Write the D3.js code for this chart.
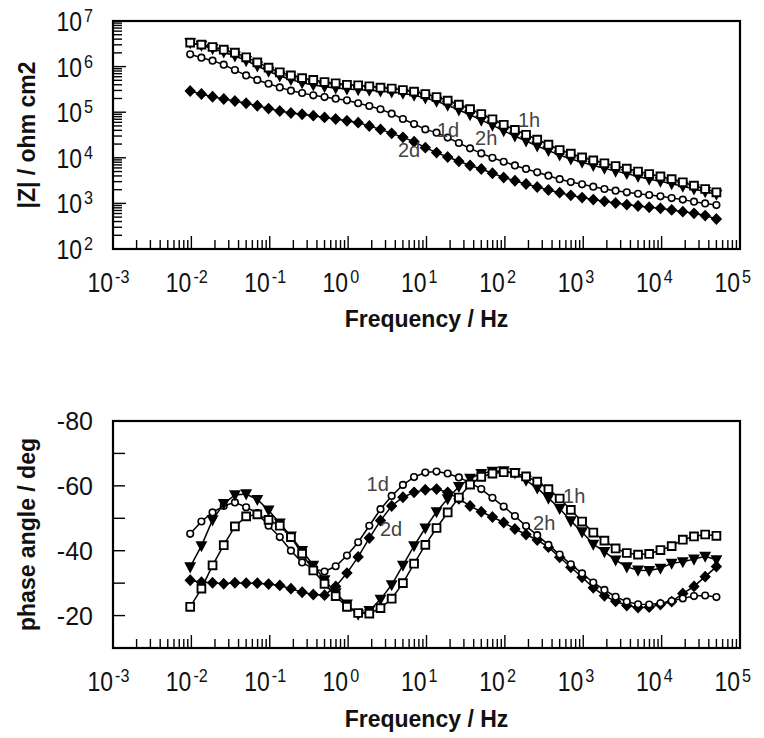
<!DOCTYPE html>
<html>
<head>
<meta charset="utf-8">
<script src="https://cdn.jsdelivr.net/npm/d3@7"></script>
<style>
body{margin:0;background:#fff}
svg{display:block;font-family:"Liberation Sans",Arial,sans-serif}
</style>
</head>
<body>
<svg id="mainsvg" width="764" height="738"></svg>
<script>
// frequencies, Hz (7 points per decade, 50 kHz down to ~10 mHz)
const freq = [0.00966, 0.01343, 0.01863, 0.02588, 0.03594, 0.05, 0.0694, 0.0966, 0.1343, 0.1863,
  0.2588, 0.3594, 0.5, 0.694, 0.966, 1.343, 1.863, 2.588, 3.594, 5,
  6.94, 9.66, 13.43, 18.63, 25.88, 35.94, 50, 69.4, 96.6, 134.3,
  186.3, 258.8, 359.4, 500, 694, 966, 1343, 1863, 2588, 3594,
  5000, 6940, 9660, 13430, 18630, 25880, 35940, 50000]

// |Z| / ohm cm2
const mag1h = [3.35e6, 3.03e6, 2.69e6, 2.35e6, 2.02e6, 1.60e6, 1.24e6, 9.5e5, 7.5e5, 6.4e5,
  5.6e5, 5.1e5, 4.6e5, 4.3e5, 4.0e5, 3.9e5, 3.7e5, 3.45e5, 3.3e5, 3.07e5,
  2.82e5, 2.5e5, 2.15e5, 1.79e5, 1.46e5, 1.17e5, 9.1e4, 7.0e4, 5.3e4, 4.1e4,
  3.2e4, 2.5e4, 1.94e4, 1.48e4, 1.23e4, 1.02e4, 8.8e3, 7.6e3, 6.6e3, 5.8e3,
  5.0e3, 4.4e3, 3.9e3, 3.4e3, 2.9e3, 2.45e3, 2.07e3, 1.75e3]
const mag2h = [3.35e6, 2.92e6, 2.47e6, 2.09e6, 1.71e6, 1.35e6, 1.03e6, 7.9e5, 6.2e5, 5.2e5,
  4.4e5, 3.95e5, 3.63e5, 3.4e5, 3.23e5, 3.12e5, 3.02e5, 2.92e5, 2.77e5, 2.59e5,
  2.34e5, 2.05e5, 1.73e5, 1.42e5, 1.12e5, 8.8e4, 6.7e4, 5.2e4, 3.9e4, 3.0e4,
  2.34e4, 1.82e4, 1.44e4, 1.15e4, 9.4e3, 8.0e3, 6.8e3, 5.9e3, 5.1e3, 4.5e3,
  3.9e3, 3.4e3, 3.05e3, 2.7e3, 2.37e3, 2.07e3, 1.81e3, 1.58e3]
const mag1d = [1.86e6, 1.57e6, 1.35e6, 1.10e6, 8.4e5, 6.4e5, 5.1e5, 4.2e5, 3.5e5, 2.96e5,
  2.64e5, 2.34e5, 2.15e5, 1.98e5, 1.82e5, 1.57e5, 1.37e5, 1.16e5, 9.3e4, 7.1e4,
  5.5e4, 4.2e4, 3.56e4, 2.77e4, 2.11e4, 1.61e4, 1.25e4, 1.0e4, 8.2e3, 6.8e3,
  5.7e3, 4.8e3, 4.05e3, 3.4e3, 2.94e3, 2.62e3, 2.33e3, 2.07e3, 1.9e3, 1.75e3,
  1.63e3, 1.53e3, 1.43e3, 1.31e3, 1.21e3, 1.09e3, 1.0e3, 9.2e2]
const mag2d = [2.92e5, 2.51e5, 2.19e5, 1.95e5, 1.76e5, 1.57e5, 1.39e5, 1.2e5, 1.06e5, 9.6e4,
  9.0e4, 8.4e4, 7.7e4, 7.1e4, 6.5e4, 5.9e4, 5.0e4, 4.2e4, 3.44e4, 2.81e4,
  2.26e4, 1.67e4, 1.30e4, 1.04e4, 8.4e3, 6.8e3, 5.7e3, 4.6e3, 3.7e3, 3.15e3,
  2.67e3, 2.29e3, 1.97e3, 1.72e3, 1.5e3, 1.34e3, 1.21e3, 1.11e3, 1.02e3, 9.4e2,
  8.8e2, 8.2e2, 7.8e2, 7.2e2, 6.6e2, 6.05e2, 5.4e2, 4.55e2]

// phase angle / deg
const ph1h = [-22.7, -28.3, -35.5, -41.7, -47.5, -50.6, -51.2, -49.5, -47.7, -44.2,
  -39.1, -33.9, -29.8, -26.0, -22.7, -20.8, -20.6, -22.3, -25.2, -30.0,
  -36.0, -41.8, -47.0, -51.8, -56.4, -60.4, -62.8, -63.8, -64.2, -64.0,
  -62.9, -61.3, -59.0, -56.1, -52.6, -49.0, -45.6, -43.1, -40.7, -39.3,
  -38.8, -39.0, -40.2, -41.4, -43.4, -44.4, -45.0, -44.6]
const ph2h = [-35.0, -41.5, -49.5, -54.5, -57.2, -57.5, -55.8, -52.5, -48.5, -44.5,
  -40.0, -35.5, -31.0, -27.0, -23.5, -20.4, -21.5, -25.0, -29.5, -35.5,
  -41.5, -47.0, -52.0, -56.0, -59.8, -62.3, -63.8, -64.5, -64.6, -64.0,
  -61.7, -59.3, -56.2, -53.0, -49.2, -45.8, -42.0, -39.7, -37.1, -35.0,
  -34.0, -33.9, -34.6, -36.1, -36.6, -37.4, -38.3, -37.2]
const ph1d = [-45.2, -49.0, -51.8, -53.8, -54.9, -53.4, -51.6, -47.7, -44.2, -40.0,
  -36.4, -34.4, -33.6, -35.2, -38.5, -42.6, -47.7, -52.8, -56.9, -60.3,
  -62.7, -64.1, -64.4, -63.8, -62.6, -61.0, -59.0, -56.3, -53.6, -50.7,
  -47.6, -44.8, -41.8, -38.8, -35.8, -33.0, -30.2, -27.9, -25.8, -24.3,
  -23.5, -23.4, -23.8, -24.5, -25.3, -26.0, -26.2, -25.7]
const ph2d = [-30.9, -30.3, -30.1, -29.8, -30.1, -30.0, -30.0, -29.7, -29.3, -28.3,
  -27.2, -26.5, -26.3, -29.0, -33.1, -38.1, -43.9, -49.3, -53.8, -56.5,
  -58.0, -58.8, -59.0, -58.0, -56.0, -53.8, -52.0, -50.4, -48.7, -46.7,
  -45.0, -43.3, -41.1, -38.0, -34.9, -31.8, -28.6, -26.1, -24.4, -23.1,
  -22.5, -22.6, -23.4, -24.3, -26.8, -29.0, -32.0, -35.1]

const seriesNames = ['2d', '1d', '2h', '1h']
const seriesMarkers = ['diamond', 'circle', 'triangle', 'square']
const magSeries = [mag2d, mag1d, mag2h, mag1h]
const phSeries = [ph2d, ph1d, ph2h, ph1h]

const xTickExps = [-3, -2, -1, 0, 1, 2, 3, 4, 5]
const magTickExps = [2, 3, 4, 5, 6, 7]
const phTicks = [-80, -70, -60, -50, -40, -30, -20, -10]
const phTickLabels = [-80, -60, -40, -20]

const svg = d3.select('#mainsvg')
const left = 113, right = 740

function markerPath(type) {
  if (type === 'diamond') return 'M0,-4.8L4.6,0L0,4.8L-4.6,0Z'
  if (type === 'triangle') return 'M-4.6,-3.8L4.6,-3.8L0,4.8Z'
  if (type === 'square') return 'M-3.9,-3.9L3.9,-3.9L3.9,3.9L-3.9,3.9Z'
  return d3.symbol(d3.symbolCircle, 34)()
}

// "10" with a raised exponent, base right aligned at x
function powerLabel(g, x, y, exp) {
  g.append('text')
    .attr('transform', `translate(${x},${y}) scale(0.85,1)`)
    .attr('text-anchor', 'end')
    .attr('font-size', 27)
    .attr('fill', '#111')
    .text('10')
  g.append('text')
    .attr('transform', `translate(${x + 2},${y - 9}) scale(0.9,1)`)
    .attr('font-size', 18)
    .attr('fill', '#111')
    .text(exp)
}

function drawPanel(top, bottom, y, yKind, valuesList, xTitleY, yTitle, notes) {
  const g = svg.append('g')
  const x = d3.scaleLog().domain([1e-3, 1e5]).range([left, right])

  // x ticks, inward from the bottom edge
  const xt = x.ticks()
  g.selectAll('.xt').data(xt).join('line')
    .attr('x1', d => x(d)).attr('x2', d => x(d))
    .attr('y1', bottom)
    .attr('y2', d => bottom - (Math.abs(Math.log10(d) - Math.round(Math.log10(d))) < 1e-6 ? 13 : 9))
    .attr('stroke', '#000').attr('stroke-width', 1.4)
  xTickExps.forEach(e => powerLabel(g, x(Math.pow(10, e)), bottom + 43, e))

  // y ticks, inward from the left edge
  if (yKind === 'log') {
    g.selectAll('.yt').data(y.ticks()).join('line')
      .attr('x1', left).attr('y1', d => y(d)).attr('y2', d => y(d))
      .attr('x2', d => left + (Math.abs(Math.log10(d) - Math.round(Math.log10(d))) < 1e-6 ? 13 : 9))
      .attr('stroke', '#000').attr('stroke-width', 1.4)
    magTickExps.forEach(e => powerLabel(g, 82, y(Math.pow(10, e)) + 10, e))
  } else {
    g.selectAll('.yt').data(phTicks).join('line')
      .attr('x1', left).attr('x2', left + 12)
      .attr('y1', d => y(d)).attr('y2', d => y(d))
      .attr('stroke', '#000').attr('stroke-width', 1.4)
    phTickLabels.forEach(v => {
      g.append('text')
        .attr('transform', `translate(93,${y(v) + 9})`)
        .attr('text-anchor', 'end')
        .attr('font-size', 25)
        .attr('fill', '#111')
        .text(v)
    })
  }

  // series
  const line = d3.line().x((d, i) => x(freq[i])).y(d => y(d))
  valuesList.forEach((vals, s) => {
    g.append('path').attr('d', line(vals))
      .attr('fill', 'none').attr('stroke', '#000').attr('stroke-width', 1.5)
    const type = seriesMarkers[s]
    const filled = type === 'diamond' || type === 'triangle'
    g.selectAll(null).data(vals).join('path')
      .attr('transform', (d, i) => `translate(${x(freq[i])},${y(d)})`)
      .attr('d', markerPath(type))
      .attr('fill', filled ? '#000' : '#fff')
      .attr('stroke', '#000')
      .attr('stroke-width', type === 'square' ? 1.9 : 1.6)
  })

  // curve labels
  notes.forEach(n => {
    g.append('text')
      .attr('x', x(n.f)).attr('y', y(n.v))
      .attr('font-size', 20)
      .attr('fill', '#444')
      .text(n.t)
  })

  // frame
  g.append('rect')
    .attr('x', left).attr('y', top)
    .attr('width', right - left).attr('height', bottom - top)
    .attr('fill', 'none').attr('stroke', '#000').attr('stroke-width', 2.2)

  // axis titles
  g.append('text')
    .attr('x', (left + right) / 2).attr('y', xTitleY)
    .attr('text-anchor', 'middle')
    .attr('font-size', 23).attr('font-weight', 'bold').attr('fill', '#111')
    .text('Frequency / Hz')
  g.append('text')
    .attr('transform', `translate(35,${(top + bottom) / 2}) rotate(-90)`)
    .attr('text-anchor', 'middle')
    .attr('font-size', 23).attr('font-weight', 'bold').attr('fill', '#111')
    .text(yTitle)
}

const yMag = d3.scaleLog().domain([1e2, 1e7]).range([249, 21])
drawPanel(21, 249, yMag, 'log', magSeries, 327, '|Z| / ohm cm2', [
  {t: '1h', f: 147, v: 4.7e4},
  {t: '1d', f: 13.6, v: 2.86e4},
  {t: '2h', f: 41.6, v: 1.91e4},
  {t: '2d', f: 4.33, v: 1.04e4}
])

const yPh = d3.scaleLinear().domain([-10, -80]).range([648, 421])
drawPanel(421, 648, yPh, 'lin', phSeries, 727, 'phase angle / deg', [
  {t: '1d', f: 1.72, v: -58.5},
  {t: '2d', f: 2.55, v: -44.4},
  {t: '1h', f: 552, v: -54.8},
  {t: '2h', f: 229, v: -46.5}
])
</script>
</body>
</html>
